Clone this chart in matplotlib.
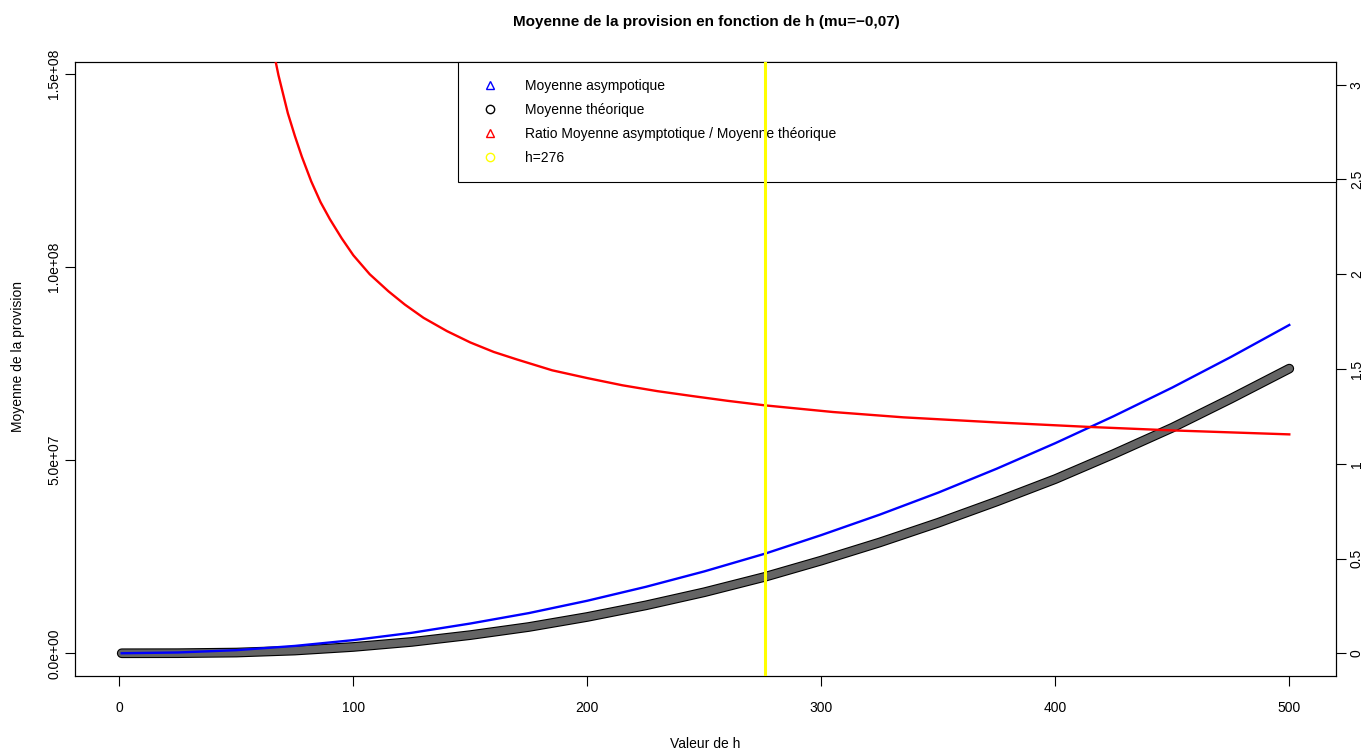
import matplotlib.pyplot as plt
from matplotlib.lines import Line2D
import numpy as np

plt.rcParams['font.family'] = ['Liberation Sans', 'DejaVu Sans']
plt.rcParams['font.size'] = 10

# valeurs (moyennes en millions)
h = [1, 25, 50, 75, 100, 125, 150, 175, 200, 225, 250, 276, 300, 325, 350, 375, 400, 425, 450, 475, 500]
moy_asympt = [0.0, 0.2, 0.8, 1.9, 3.4, 5.3, 7.7, 10.4, 13.6, 17.2, 21.2, 25.8, 30.6, 35.9, 41.6, 47.8, 54.4, 61.4, 68.8, 76.7, 85.0]
moy_theo = [0.0, 0.02, 0.18, 0.70, 1.63, 2.94, 4.7, 6.8, 9.4, 12.4, 15.8, 19.8, 24.0, 28.7, 33.8, 39.3, 45.1, 51.6, 58.4, 65.9, 73.7]

h_ratio = [62, 64, 66, 68, 70, 72, 75, 78, 82, 86, 90, 95, 100, 107, 115, 122, 130, 140, 150, 160, 170, 185,
           200, 215, 230, 245, 260, 276, 305, 335, 375, 415, 450, 500]
ratio = [3.45, 3.30, 3.17, 3.05, 2.95, 2.85, 2.73, 2.62, 2.49, 2.38, 2.29, 2.19, 2.10, 2.00, 1.91, 1.84, 1.77,
         1.70, 1.64, 1.59, 1.55, 1.493, 1.452, 1.414, 1.383, 1.357, 1.332, 1.308, 1.273, 1.245, 1.218, 1.194,
         1.176, 1.155]

h_seuil = 276

left_ticks = [0, 5e7, 1e8, 1.5e8]
left_labels = ['0.0e+00', '5.0e+07', '1.0e+08', '1.5e+08']
right_ticks = [0, 0.5, 1, 1.5, 2, 2.5, 3]
right_labels = ['0', '0.5', '1', '1.5', '2', '2.5', '3']
x_ticks = [0, 100, 200, 300, 400, 500]

W, H = 1365, 751
fig = plt.figure(figsize=(W / 100, H / 100), dpi=100)
ax = fig.add_axes([75 / W, 75 / H, 1261 / W, 614 / H])
ax2 = ax.twinx()

theo = np.array(moy_theo) * 1e6
asy = np.array(moy_asympt) * 1e6

# moyenne theorique : chapelet de cercles -> trait epais
ax.plot(h, theo, color='black', lw=7.0, solid_capstyle='round', zorder=2)
ax.plot(h, theo, color='#646464', lw=5.4, solid_capstyle='round', zorder=2.1)
ax.plot(h, asy, color='blue', lw=1.7, zorder=3)

ax2.plot(h_ratio, ratio, color='red', lw=1.7, zorder=3)
ax2.axvline(h_seuil, color='#ffff00', lw=2.2, zorder=6)

ymax = 147.2e6
ax.set_xlim(1 - 19.96, 500 + 19.96)
ax.set_ylim(-0.04 * ymax, 1.04 * ymax)
ax2.set_ylim(-0.12, 3.12)

ax.set_xticks(x_ticks)
ax.set_yticks(left_ticks)
ax.set_yticklabels(left_labels, rotation=90, va='center')
ax2.set_yticks(right_ticks)
ax2.set_yticklabels(right_labels, rotation=90, va='center')

ax.tick_params(direction='out', length=7, width=0.8)
ax.tick_params(axis='x', pad=11)
ax.tick_params(axis='y', pad=3)
ax2.tick_params(direction='out', length=7, width=0.8, pad=3)
for a in (ax, ax2):
    for s in a.spines.values():
        s.set_linewidth(0.8)

handles = [
    Line2D([], [], marker='^', ls='none', mfc='none', mec='blue', ms=6, mew=1),
    Line2D([], [], marker='o', ls='none', mfc='none', mec='black', ms=6, mew=1),
    Line2D([], [], marker='^', ls='none', mfc='none', mec='red', ms=6, mew=1),
    Line2D([], [], marker='o', ls='none', mfc='none', mec='#ffff00', ms=6, mew=1),
]
labels = ['Moyenne asympotique', 'Moyenne théorique',
          'Ratio Moyenne asymptotique / Moyenne théorique', 'h=276']
x0 = (458 - 75) / 1261
leg = ax2.legend(handles, labels, loc='upper left', bbox_to_anchor=(x0, 0, 1 - x0, 1.0),
                 mode='expand', frameon=True, fancybox=False, edgecolor='black', framealpha=1,
                 borderpad=1.2, labelspacing=0.73, handlelength=2.2, handletextpad=1.4,
                 borderaxespad=0)
leg.get_frame().set_linewidth(0.8)
leg.set_zorder(5)

fig.text(706 / W, 1 - 22 / H, 'Moyenne de la provision en fonction de h (mu=\u22120,07)',
         ha='center', va='center', fontweight='bold', fontsize=11)
fig.text(18 / W, 1 - 356 / H, 'Moyenne de la provision', rotation=90, ha='center', va='center')
fig.text(705 / W, 1 - 744 / H, 'Valeur de h', ha='center', va='center')

fig.savefig('out.png', dpi=100)
